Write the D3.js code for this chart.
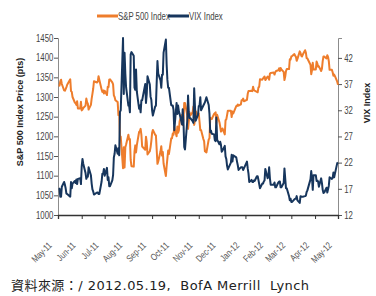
<!DOCTYPE html>
<html>
<head>
<meta charset="utf-8">
<script src="https://cdn.jsdelivr.net/npm/d3@7"></script>
<style>
  body { margin: 0; background: #fff; }
  svg { display: block; }
</style>
</head>
<body>
<div id="chart"></div>
<script>
// trading days, one line per month
var dates = [
  "2011-05-16","2011-05-17","2011-05-18","2011-05-19","2011-05-20","2011-05-23","2011-05-24","2011-05-25","2011-05-26","2011-05-27","2011-05-31",
  "2011-06-01","2011-06-02","2011-06-03","2011-06-06","2011-06-07","2011-06-08","2011-06-09","2011-06-10","2011-06-13","2011-06-14","2011-06-15","2011-06-16","2011-06-17","2011-06-20","2011-06-21","2011-06-22","2011-06-23","2011-06-24","2011-06-27","2011-06-28","2011-06-29","2011-06-30",
  "2011-07-01","2011-07-05","2011-07-06","2011-07-07","2011-07-08","2011-07-11","2011-07-12","2011-07-13","2011-07-14","2011-07-15","2011-07-18","2011-07-19","2011-07-20","2011-07-21","2011-07-22","2011-07-25","2011-07-26","2011-07-27","2011-07-28","2011-07-29",
  "2011-08-01","2011-08-02","2011-08-03","2011-08-04","2011-08-05","2011-08-08","2011-08-09","2011-08-10","2011-08-11","2011-08-12","2011-08-15","2011-08-16","2011-08-17","2011-08-18","2011-08-19","2011-08-22","2011-08-23","2011-08-24","2011-08-25","2011-08-26","2011-08-29","2011-08-30","2011-08-31",
  "2011-09-01","2011-09-02","2011-09-06","2011-09-07","2011-09-08","2011-09-09","2011-09-12","2011-09-13","2011-09-14","2011-09-15","2011-09-16","2011-09-19","2011-09-20","2011-09-21","2011-09-22","2011-09-23","2011-09-26","2011-09-27","2011-09-28","2011-09-29","2011-09-30",
  "2011-10-03","2011-10-04","2011-10-05","2011-10-06","2011-10-07","2011-10-10","2011-10-11","2011-10-12","2011-10-13","2011-10-14","2011-10-17","2011-10-18","2011-10-19","2011-10-20","2011-10-21","2011-10-24","2011-10-25","2011-10-26","2011-10-27","2011-10-28","2011-10-31",
  "2011-11-01","2011-11-02","2011-11-03","2011-11-04","2011-11-07","2011-11-08","2011-11-09","2011-11-10","2011-11-11","2011-11-14","2011-11-15","2011-11-16","2011-11-17","2011-11-18","2011-11-21","2011-11-22","2011-11-23","2011-11-25","2011-11-28","2011-11-29","2011-11-30",
  "2011-12-01","2011-12-02","2011-12-05","2011-12-06","2011-12-07","2011-12-08","2011-12-09","2011-12-12","2011-12-13","2011-12-14","2011-12-15","2011-12-16","2011-12-19","2011-12-20","2011-12-21","2011-12-22","2011-12-23","2011-12-27","2011-12-28","2011-12-29","2011-12-30",
  "2012-01-03","2012-01-04","2012-01-05","2012-01-06","2012-01-09","2012-01-10","2012-01-11","2012-01-12","2012-01-13","2012-01-17","2012-01-18","2012-01-19","2012-01-20","2012-01-23","2012-01-24","2012-01-25","2012-01-26","2012-01-27","2012-01-30","2012-01-31",
  "2012-02-01","2012-02-02","2012-02-03","2012-02-06","2012-02-07","2012-02-08","2012-02-09","2012-02-10","2012-02-13","2012-02-14","2012-02-15","2012-02-16","2012-02-17","2012-02-21","2012-02-22","2012-02-23","2012-02-24","2012-02-27","2012-02-28","2012-02-29",
  "2012-03-01","2012-03-02","2012-03-05","2012-03-06","2012-03-07","2012-03-08","2012-03-09","2012-03-12","2012-03-13","2012-03-14","2012-03-15","2012-03-16","2012-03-19","2012-03-20","2012-03-21","2012-03-22","2012-03-23","2012-03-26","2012-03-27","2012-03-28","2012-03-29","2012-03-30",
  "2012-04-02","2012-04-03","2012-04-04","2012-04-05","2012-04-09","2012-04-10","2012-04-11","2012-04-12","2012-04-13","2012-04-16","2012-04-17","2012-04-18","2012-04-19","2012-04-20","2012-04-23","2012-04-24","2012-04-25","2012-04-26","2012-04-27","2012-04-30",
  "2012-05-01","2012-05-02","2012-05-03","2012-05-04","2012-05-07","2012-05-08","2012-05-09","2012-05-10","2012-05-11","2012-05-14","2012-05-15"
];

var spx = [
  1330,1329,1340,1344,1333,1317,1316,1320,1325,1331,1345,
  1315,1313,1300,1286,1284,1280,1289,1271,1271,1288,1266,1268,1272,1278,1296,1287,1283,1268,1280,1296,1308,1321,
  1340,1337,1339,1353,1344,1319,1313,1317,1309,1316,1305,1326,1325,1344,1345,1337,1332,1304,1300,1292,
  1287,1254,1260,1200,1199,1119,1172,1121,1172,1179,1204,1192,1193,1140,1124,1123,1162,1177,1159,1177,1211,1213,1219,
  1204,1174,1166,1199,1185,1154,1162,1172,1188,1209,1216,1204,1202,1166,1130,1136,1162,1175,1151,1160,1131,
  1099,1124,1144,1164,1155,1195,1195,1207,1204,1224,1200,1225,1209,1215,1239,1254,1229,1242,1285,1285,1253,
  1219,1238,1261,1253,1262,1276,1229,1240,1264,1251,1258,1237,1216,1216,1193,1188,1162,1159,1192,1195,1247,
  1244,1244,1257,1259,1261,1234,1255,1236,1225,1212,1215,1220,1205,1241,1243,1254,1265,1265,1249,1263,1258,
  1277,1277,1281,1278,1281,1292,1292,1296,1289,1293,1308,1315,1315,1316,1315,1326,1318,1316,1313,1312,
  1324,1326,1345,1344,1347,1350,1352,1343,1352,1350,1344,1359,1361,1362,1357,1363,1366,1368,1373,1366,
  1374,1370,1364,1343,1352,1366,1371,1371,1396,1395,1403,1404,1409,1405,1402,1392,1397,1416,1412,1405,1403,1408,
  1419,1413,1399,1398,1382,1358,1368,1387,1370,1370,1390,1385,1377,1378,1366,1372,1391,1403,1403,1398,
  1406,1402,1391,1369,1369,1363,1354,1357,1353,1339,1331
];

var vix = [
  17.1,17.0,15.5,15.5,17.4,18.3,17.8,17.1,16.1,16.0,15.5,
  18.3,17.1,18.0,18.5,18.1,18.8,17.9,18.9,19.0,17.9,21.3,22.7,21.8,20.0,18.9,19.3,19.3,21.1,19.6,18.0,16.9,16.5,
  15.9,16.3,16.3,16.0,16.0,18.4,19.9,19.9,20.8,19.5,21.0,18.7,19.2,17.5,17.5,18.6,19.6,23.0,23.7,25.3,
  23.7,24.8,23.4,31.7,32.0,45.8,35.1,43.0,39.0,36.4,32.9,32.9,31.6,42.7,43.1,42.4,36.3,35.9,39.8,35.6,32.3,32.9,31.6,
  33.9,33.9,37.0,33.4,35.1,38.5,36.9,34.6,34.0,32.0,31.0,32.7,32.9,37.3,41.4,39.0,37.7,36.3,38.8,38.8,43.0,
  45.5,40.8,37.8,36.3,36.3,33.0,32.9,32.9,32.1,28.2,33.4,31.3,32.9,31.8,31.3,29.3,32.2,29.9,25.0,24.5,30.0,
  34.8,31.5,30.5,30.5,29.9,29.6,36.2,32.8,30.0,31.1,32.8,32.9,34.5,32.0,32.9,33.2,33.5,34.5,33.0,31.3,27.8,
  28.1,27.5,27.4,26.3,26.1,30.6,26.4,25.5,26.0,25.4,24.1,24.3,25.2,23.2,22.7,21.4,20.7,22.0,23.5,22.2,23.4,
  23.0,22.2,21.5,20.6,21.1,21.1,21.1,20.6,20.9,22.2,20.9,19.9,18.3,18.7,18.3,18.3,18.6,18.5,19.4,19.4,
  18.7,17.9,17.1,18.0,18.0,18.4,18.6,20.8,19.0,19.5,21.1,19.0,17.8,17.8,18.2,17.3,17.3,18.2,18.4,18.4,
  17.3,17.3,18.1,20.9,19.0,17.1,17.1,15.6,14.8,15.1,14.5,14.5,15.0,15.1,15.1,15.6,14.8,14.3,15.6,15.5,15.5,15.5,
  15.6,15.7,16.4,16.7,18.8,20.4,19.1,16.8,19.6,19.6,18.5,18.6,18.4,17.4,19.0,18.1,16.8,16.2,16.3,17.2,
  16.3,16.9,17.6,19.2,18.9,19.1,20.1,19.2,19.9,21.9,22.0
];

var spxTicks = [1000, 1050, 1100, 1150, 1200, 1250, 1300, 1350, 1400, 1450];
var vixTicks = [12, 17, 22, 27, 32, 37, 42];
var seriesNames = ['S&P 500 Index', 'VIX Index'];
var sourceNote = '資料來源：/ 2012.05.19,  BofA Merrill  Lynch';

var spxColor = '#ee7d2c';
var vixColor = '#17365d';
var labelFont = '"Liberation Sans", Arial, sans-serif';
var squeeze = 'scale(0.78,1)';

var width = 376, height = 296;
var plotLeft = 58, plotRight = 338, plotTop = 38, plotBottom = 215;

var parseDate = d3.timeParse('%Y-%m-%d');
var startDate = new Date(2011, 4, 15);
var endDate = new Date(2012, 4, 15);

var xScale = d3.scaleTime().domain([startDate, endDate]).range([plotLeft, plotRight]);
var ySpx = d3.scaleLinear().domain([1000, 1450]).range([plotBottom, plotTop]);
var yVix = d3.scaleLinear().domain([12, 45.8]).range([plotBottom, plotTop]);

var monthTicks = d3.range(13).map(function (i) { return d3.timeMonth.offset(startDate, i); });

var rows = dates.map(function (d, i) {
    return { date: parseDate(d), spx: spx[i], vix: vix[i] };
});

var svg = d3.select('#chart')
    .append('svg')
    .attr('width', width)
    .attr('height', height);

// left axis
var gLeft = svg.append('g')
    .attr('transform', 'translate(' + plotLeft + ',0)')
    .call(d3.axisLeft(ySpx).tickValues(spxTicks).tickFormat(d3.format('d')).tickSize(4).tickPadding(2));

// right axis
var gRight = svg.append('g')
    .attr('transform', 'translate(' + plotRight + ',0)')
    .call(d3.axisRight(yVix).tickValues(vixTicks).tickSize(4).tickPadding(4));

// bottom axis
var gBottom = svg.append('g')
    .attr('transform', 'translate(0,' + plotBottom + ')')
    .call(d3.axisBottom(xScale).tickValues(monthTicks).tickFormat(d3.timeFormat('%b-%y')).tickSize(4).tickPadding(0));

[gLeft, gRight].forEach(function (g) {
    g.select('.domain').attr('stroke', '#8c8c8c');
    g.selectAll('.tick line').attr('stroke', '#555');
    g.selectAll('text')
        .attr('fill', '#444')
        .attr('transform', squeeze)
        .style('font-family', labelFont)
        .style('font-size', '10px');
});

gBottom.select('.domain').attr('stroke', '#333').attr('stroke-width', 1.3);
gBottom.selectAll('.tick line').attr('stroke', '#333');
gBottom.selectAll('text')
    .attr('fill', '#555')
    .style('font-family', labelFont)
    .style('font-size', '9.5px')
    .attr('text-anchor', 'end')
    .attr('x', 0)
    .attr('y', 0)
    .attr('dy', 0)
    .attr('transform', 'translate(-6,31) rotate(-45) ' + squeeze);

// lines
var spxLine = d3.line()
    .x(function (d) { return xScale(d.date); })
    .y(function (d) { return ySpx(d.spx); });

var vixLine = d3.line()
    .x(function (d) { return xScale(d.date); })
    .y(function (d) { return yVix(d.vix); });

svg.append('path')
    .datum(rows)
    .attr('d', spxLine)
    .attr('fill', 'none')
    .attr('stroke', spxColor)
    .attr('stroke-width', 2)
    .attr('stroke-linejoin', 'round');

svg.append('path')
    .datum(rows)
    .attr('d', vixLine)
    .attr('fill', 'none')
    .attr('stroke', vixColor)
    .attr('stroke-width', 2)
    .attr('stroke-linejoin', 'round');

// axis titles
svg.append('text')
    .attr('transform', 'translate(23,112) rotate(-90)')
    .attr('text-anchor', 'middle')
    .attr('fill', '#222')
    .style('font-family', labelFont)
    .style('font-size', '9px')
    .style('font-weight', 'bold')
    .text('S&P 500 Index Price (pts)');

svg.append('text')
    .attr('transform', 'translate(370,103) rotate(-90)')
    .attr('text-anchor', 'middle')
    .attr('fill', '#222')
    .style('font-family', labelFont)
    .style('font-size', '9px')
    .style('font-weight', 'bold')
    .text(seriesNames[1]);

// legend
var legend = svg.append('g').attr('transform', 'translate(97,16)');
var legendColors = [spxColor, vixColor];
var legendX = [0, 71];
seriesNames.forEach(function (name, i) {
    legend.append('line')
        .attr('x1', legendX[i])
        .attr('x2', legendX[i] + 21)
        .attr('y1', 0)
        .attr('y2', 0)
        .attr('stroke', legendColors[i])
        .attr('stroke-width', 3);
    legend.append('text')
        .attr('transform', 'translate(' + (legendX[i] + 21) + ',3.5) ' + squeeze)
        .attr('fill', '#444')
        .style('font-family', labelFont)
        .style('font-size', '10px')
        .text(name);
});

// source note
svg.append('text')
    .attr('x', 11)
    .attr('y', 290)
    .attr('fill', '#222')
    .style('white-space', 'pre')
    .style('letter-spacing', '0.45px')
    .style('font-family', '"DejaVu Sans", "Noto Sans CJK TC", sans-serif')
    .style('font-size', '13px')
    .text(sourceNote);
</script>
</body>
</html>
